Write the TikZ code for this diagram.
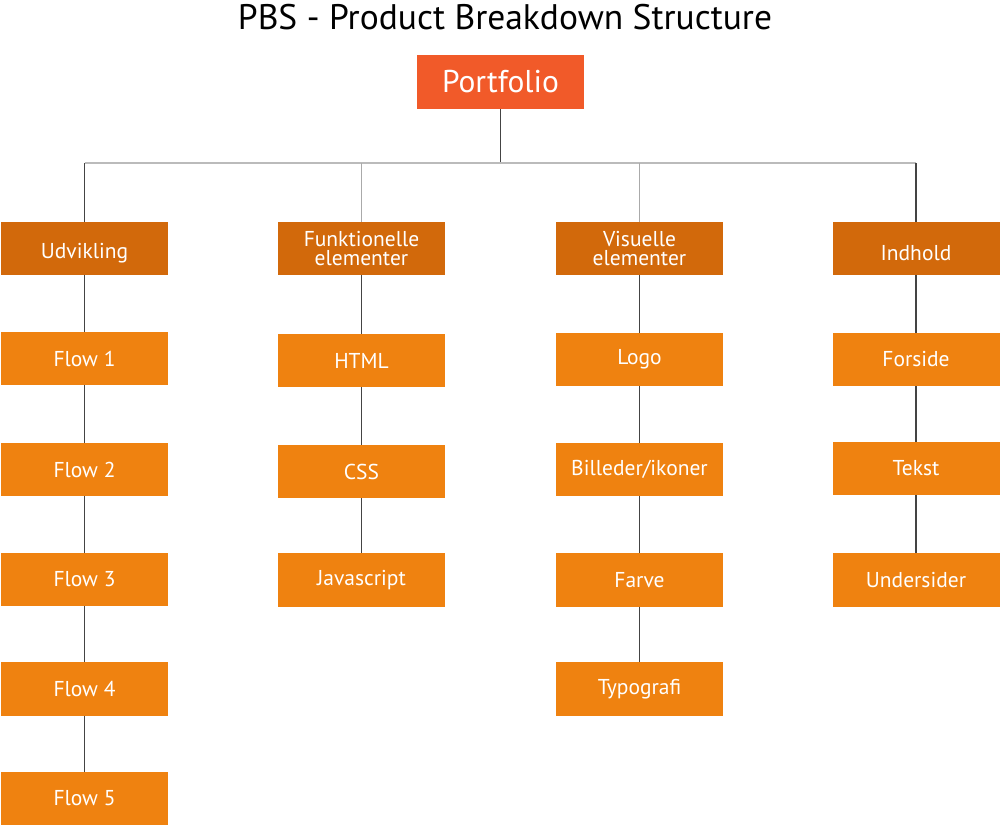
\documentclass[tikz,border=0pt]{standalone}
\usepackage{fontspec}
\setmainfont{PT Sans}
\definecolor{topc}{HTML}{F15A29}
\definecolor{midc}{HTML}{D2690B}
\definecolor{lowc}{HTML}{EF8210}
\definecolor{hline}{HTML}{BBBBBB}
\definecolor{vline}{HTML}{444444}
\definecolor{vlight}{HTML}{AAAAAA}
\newcommand{\lowered}[1]{\raisebox{-4.5pt}[\height][\depth]{#1}}
\begin{document}
\begin{tikzpicture}[x=1pt,y=-1pt,
  boxbase/.style={rectangle,inner sep=0pt,minimum width=167pt,minimum height=53.5pt,text=white,align=center},
  topbox/.style={boxbase,fill=topc,font=\fontsize{31.5}{32}\selectfont},
  midbox/.style={boxbase,fill=midc,font=\fontsize{21.5}{19.5}\selectfont},
  lowbox/.style={boxbase,fill=lowc,font=\fontsize{21.5}{22}\selectfont},
  conn/.style={draw=vline,line width=1.1pt},
  connl/.style={draw=vlight,line width=1pt},
  bar/.style={draw=hline,line width=1.6pt}]
\useasboundingbox (0,0) rectangle (1000,825);
\node[font=\fontsize{35.5}{36}\selectfont] (title) at (505,17) {PBS - Product Breakdown Structure};
\node[topbox] (port) at (500.5,82) {Portfolio};
\node[midbox] (udv) at (84.5,248.5) {\lowered{Udvikling}};
\node[midbox] (fun) at (361.5,248.5) {Funktionelle\\elementer};
\node[midbox] (vis) at (639.5,248.5) {Visuelle\\elementer};
\node[midbox] (ind) at (916,248.5) {\lowered{Indhold}};
% column 1
\node[lowbox] (f1) at (84.5,358.5) {Flow 1};
\node[lowbox] (f2) at (84.5,469.5) {Flow 2};
\node[lowbox] (f3) at (84.5,579.5) {Flow 3};
\node[lowbox] (f4) at (84.5,689) {Flow 4};
\node[lowbox] (f5) at (84.5,798.5) {Flow 5};
% column 2
\node[lowbox] (html) at (361.5,360.5) {HTML};
\node[lowbox] (css) at (361.5,471.5) {CSS};
\node[lowbox] (js) at (361.5,580) {Javascript};
% column 3
\node[lowbox] (logo) at (639.5,359.5) {Logo};
\node[lowbox] (bil) at (639.5,469.5) {Billeder/ikoner};
\node[lowbox] (far) at (639.5,580) {Farve};
\node[lowbox] (typ) at (639.5,689) {Typografi};
% column 4
\node[lowbox] (for) at (916,359.5) {Forside};
\node[lowbox] (tek) at (916,468.5) {Tekst};
\node[lowbox] (und) at (916,580) {Undersider};
% top connectors
\coordinate (hub) at (500.5,163);
\draw[conn] (port.south) -- (hub);
\draw[bar] (udv.north |- hub) -- (ind.north |- hub);
\draw[conn] (udv.north |- hub) -- (udv.north);
\draw[connl] (fun.north |- hub) -- (fun.north);
\draw[connl] (vis.north |- hub) -- (vis.north);
\draw[conn] (ind.north |- hub) -- (ind.north);
% column connectors
\draw[conn] (udv) -- (f1);
\draw[conn] (f1) -- (f2);
\draw[conn] (f2) -- (f3);
\draw[conn] (f3) -- (f4);
\draw[conn] (f4) -- (f5);
\draw[conn] (fun) -- (html);
\draw[conn] (html) -- (css);
\draw[conn] (css) -- (js);
\draw[conn] (vis) -- (logo);
\draw[conn] (logo) -- (bil);
\draw[conn] (bil) -- (far);
\draw[conn] (far) -- (typ);
\draw[conn] (ind) -- (for);
\draw[conn] (for) -- (tek);
\draw[conn] (tek) -- (und);
\end{tikzpicture}
\end{document}
